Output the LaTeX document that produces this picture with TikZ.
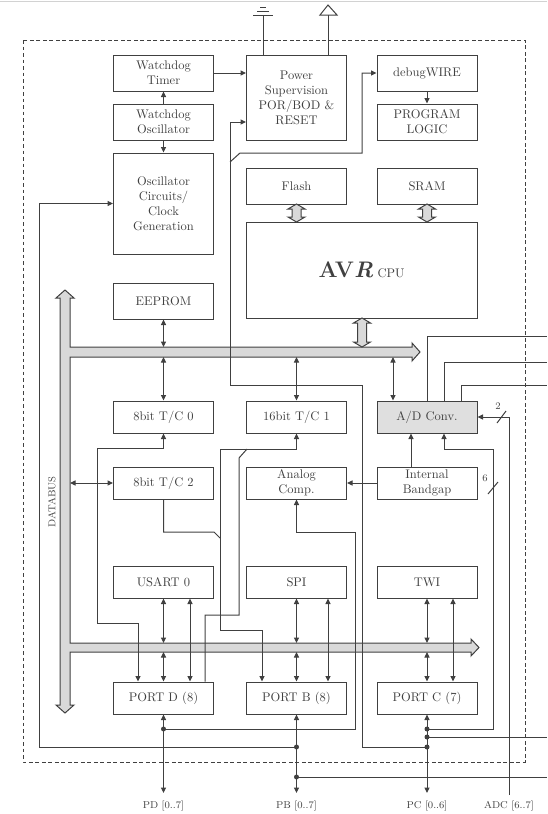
\documentclass[tikz,border=0pt]{standalone}
\usepackage{tikz}
\usetikzlibrary{arrows.meta,calc}
\definecolor{ink}{gray}{0.25}
\tikzset{
  >={Triangle[length=4.4pt,width=4pt]},
  blk/.style={draw=ink,minimum width=80pt,minimum height=28.8pt,inner sep=1pt,align=center,text=ink,font=\fontsize{10}{12}\selectfont},
  low/.style={minimum height=25.6pt},
  dot/.style={circle,fill=ink,inner sep=0pt,minimum size=4pt},
  lbl/.style={text=ink,font=\footnotesize,inner sep=1pt},
  bus/.style={fill=gray!30,draw=ink,line width=0.8pt},
  pics/fatarr/.style={code={\filldraw[bus] (-4.5,-#1/2+5) -- (-8.5,-#1/2+5) -- (0,-#1/2) -- (8.5,-#1/2+5) -- (4.5,-#1/2+5) -- (4.5,#1/2-5) -- (8.5,#1/2-5) -- (0,#1/2) -- (-8.5,#1/2-5) -- (-4.5,#1/2-5) -- cycle;}},
  every picture/.style={line width=0.8pt},
}
\begin{document}
\begin{tikzpicture}[x=0.8pt,y=-0.8pt,color=ink]
\useasboundingbox (0,0) rectangle (547,814);
\draw[gray!35,line width=1.2pt] (0,1.5) -- (547,1.5);
\draw[dashed,dash pattern=on 3pt off 2.2pt] (23,40) rectangle (525,762);
\node[blk] (wdt) at (163.5,73){Watchdog\\Timer}; \node[blk] (wdo) at (163.5,122){Watchdog\\Oscillator};
\node[blk,minimum height=80.8pt] (osc) at (163.5,203.5){Oscillator\\Circuits/\\Clock\\Generation};
\node[blk,minimum height=68pt] (pwr) at (296.5,97.5){Power\\Supervision\\POR/BOD \&\\RESET};
\node[blk] (dbw) at (427,73){debugWIRE}; \node[blk] (prog) at (427,122){PROGRAM\\LOGIC};
\node[blk] (flash) at (296.5,186){Flash}; \node[blk] (sram) at (427,186){SRAM};
\node[blk,minimum width=184.8pt,minimum height=76.8pt] (cpu) at (361.5,270){{\fontsize{18}{20}\selectfont\bfseries AV\textit{R}} CPU};
\node[blk] (eeprom) at (163.5,301){EEPROM};
\node[blk,low] (tc0) at (163.5,417){8bit T/C 0}; \node[blk,low] (tc1) at (296.5,417){16bit T/C 1};
\node[blk,low,fill=gray!25] (adc) at (427,417){A/D Conv.};
\node[blk,low] (tc2) at (163.5,483){8bit T/C 2}; \node[blk,low] (acomp) at (296.5,483){Analog\\Comp.};
\node[blk,low] (bgap) at (427,483){Internal\\Bandgap};
\node[blk,low] (usart) at (163.5,582){USART 0}; \node[blk,low] (spi) at (296.5,582){SPI}; \node[blk,low] (twi) at (427,582){TWI};
\node[blk,low] (portd) at (163.5,698){PORT D (8)}; \node[blk,low] (portb) at (296.5,698){PORT B (8)}; \node[blk,low] (portc) at (427,698){PORT C (7)};
\filldraw[bus] (60,298) -- (56,298) -- (65,290) -- (74,298) -- (70,298) -- (70,347) -- (412,347) -- (412,343) -- (420,352) -- (412,361) -- (412,357) -- (70,357) -- (70,643) -- (471,643) -- (471,639) -- (479,647.5) -- (471,656) -- (471,652) -- (70,652) -- (70,705) -- (74,705) -- (65,713) -- (56,705) -- (60,705) -- cycle;
\node[lbl,rotate=90] (dbl) at (52,502){DATABUS};
\pic at (296.5,213) {fatarr=18}; \pic at (427,213) {fatarr=18}; \pic at (362,332.5) {fatarr=29};
\node[dot] (pd1) at (163.5,729){}; \node[dot] (pb1) at (296.5,747){}; \node[dot] (pb2) at (296.5,777){};
\node[dot] (pc1) at (427,729){}; \node[dot] (pc2) at (427,737){}; \node[dot] (pc3) at (427,747){};
\coordinate (rst) at (230,162); \coordinate (t1j) at (247,449); \coordinate (t2j) at (220,538);
\coordinate (adcin) at (509,795); \coordinate (gnd) at (263,15); \coordinate (vcc) at (328,15);
\coordinate (pdpin) at (163.5,793); \coordinate (pbpin) at (296.5,793); \coordinate (pcpin) at (427,793);
\coordinate (r1) at (547,336); \coordinate (r2) at (547,362); \coordinate (r3) at (547,385);
\coordinate (r4) at (547,737); \coordinate (r5) at (547,777);
\draw (pwr.north -| gnd) -- (gnd); \draw (253,15) -- (273,15) (257,11) -- (269,11) (260,7) -- (266,7);
\draw (pwr.north -| vcc) -- (vcc); \draw (320,15) -- (328,5) -- (337,15) -- cycle;
\draw[->] (wdo.north) -- (wdt.south); \draw[->] (wdo.south) -- (osc.north);
\draw[->] (wdt.east) -- (wdt.east -| pwr.west); \draw[->] (dbw.south) -- (prog.north);
\draw[->] (pc3.center) -- (362,747) |- (230,385) |- (pwr.west |- wdo);
\draw[->] (rst) -- (240,153) -- (362,153) |- (dbw.west);
\draw[->] (pb1.center) -- (39,747) |- (osc.west);
\draw[->] (pd1.center) -- (355,729) -- (355,532) -| (acomp.south);
\draw[->] (bgap.west) -- (acomp.east); \draw[->] (bgap.north -| 411,0) -- (adc.south -| 411,0);
\draw[->] (pc1.center) -- (493,729) |- (444,449) -- (adc.south -| 444,0);
\draw (488,494) -- (498,482); \node[lbl] (n6) at (485,478){6};
\draw[->] (adcin) |- (adc.east); \draw (497,423) -- (506,411); \node[lbl] (n2) at (498,406){2};
\draw (adc.north) |- (r1); \draw (adc.north -| 444,0) |- (r2); \draw (adc.north -| 461,0) |- (r3);
\draw (pc2.center) -- (r4); \draw (pb2.center) -- (r5);
\draw[<->] (eeprom.south) -- (eeprom.south |- 0,347);
\draw[<->] (tc0.north |- 0,357) -- (tc0.north); \draw[<->] (tc1.north |- 0,357) -- (tc1.north);
\draw[<->] (393,357) -- (adc.north -| 393,0); \draw[<->] (tc2.west -| 70,0) -- (tc2.west);
\draw[<->] (usart.south) -- (usart.south |- 0,643); \draw[<->] (portd.north |- 0,652) -- (portd.north);
\draw[<->] (usart.south -| 190,0) -- (portd.north -| 190,0);
\draw[<->] (spi.south) -- (spi.south |- 0,643); \draw[<->] (portb.north |- 0,652) -- (portb.north);
\draw[<->] (spi.south -| 328,0) -- (portb.north -| 328,0);
\draw[<->] (twi.south) -- (twi.south |- 0,643); \draw[<->] (portc.north |- 0,652) -- (portc.north);
\draw[<->] (twi.south -| 453,0) -- (portc.north -| 453,0);
\draw[<->] (tc0.south) |- (97,448) -- (97,623) -| (portd.north -| 138,0);
\draw[<->] (tc1.south) |- (220,449) -- (220,630) -| (portb.north -| 262,0);
\draw (portd.north -| 205,0) |- (239,615) -- (239,458) -- (t1j);
\draw (tc2.south) |- (214,532) -- (t2j);
\draw[<->] (portd.south) -- (pdpin); \draw[<->] (portb.south) -- (pbpin); \draw[<->] (portc.south) -- (pcpin);
\node[lbl] (lpd) at (163.5,806){PD [0..7]}; \node[lbl] (lpb) at (296.5,806){PB [0..7]};
\node[lbl] (lpc) at (427,806){PC [0..6]}; \node[lbl] (ladc) at (509,806){ADC [6..7]};
\end{tikzpicture}
\end{document}
